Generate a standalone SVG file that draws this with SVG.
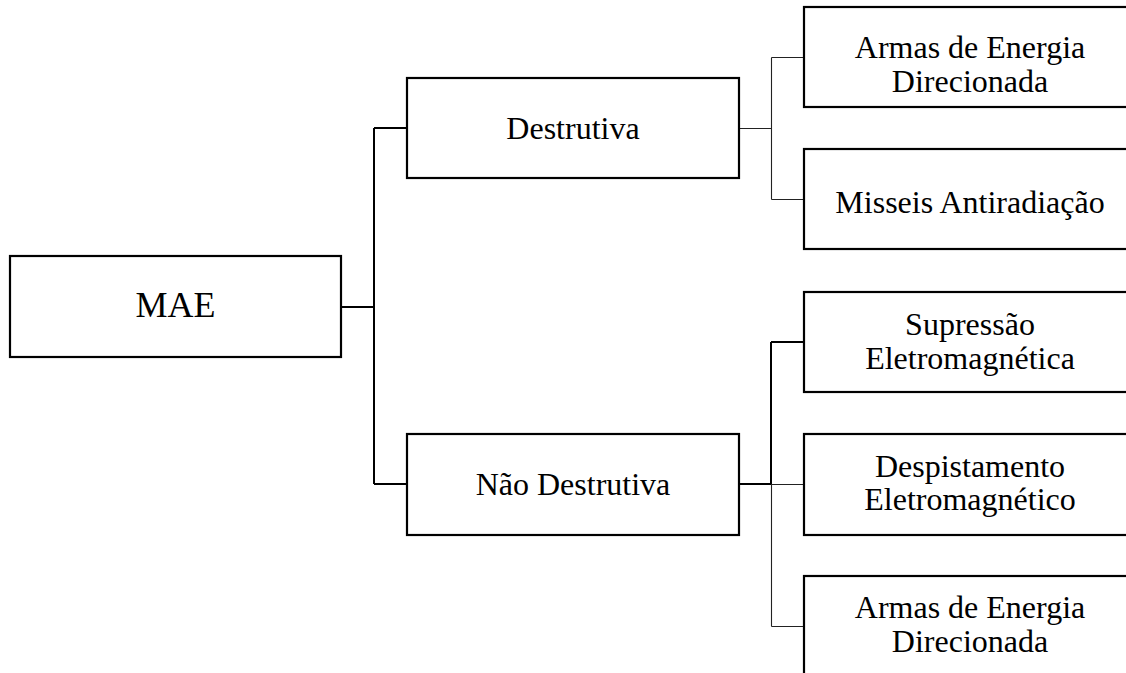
<svg xmlns="http://www.w3.org/2000/svg" width="1126" height="673" viewBox="0 0 1126 673">
  <style>
    .box { fill: #ffffff; stroke: #000000; stroke-width: 2.2; }
    .lbl { font-family: "Liberation Serif", "Times New Roman", serif; font-size: 32px; fill: #000000; text-anchor: middle; }
    .big { font-size: 36px; }
    .thick { fill: none; stroke: #000000; stroke-width: 2; }
    .thin { fill: none; stroke: #222222; stroke-width: 1.1; }
  </style>
  <rect width="1126" height="673" fill="#ffffff"/>

  <!-- connectors -->
  <g id="connectors">
    <path class="thick" d="M341 307 H374 M374 128 V484 M374 128 H407 M374 484 H407"/>
    <path class="thin" d="M739 128.5 H771.5 M771.5 57.5 V199.5 M771.5 57.5 H804 M771.5 199.5 H804"/>
    <path class="thick" d="M739 484 H771 M771 342 V484 M771 342 H804"/>
    <path class="thin" d="M771 484.5 H804 M771.5 484 V626.5 M771.5 626.5 H804"/>
  </g>

  <g id="mae">
    <rect class="box" x="10" y="256" width="331" height="101"/>
    <text class="lbl big" x="175.5" y="317">MAE</text>
  </g>

  <g id="destrutiva">
    <rect class="box" x="407" y="78" width="332" height="100"/>
    <text class="lbl" x="573" y="139">Destrutiva</text>
  </g>

  <g id="nao-destrutiva">
    <rect class="box" x="407" y="434" width="332" height="101"/>
    <text class="lbl" x="573" y="495">Não Destrutiva</text>
  </g>

  <g id="armas-energia-1">
    <rect class="box" x="804" y="7" width="332" height="100"/>
    <text class="lbl" x="970" y="58">Armas de Energia</text>
    <text class="lbl" x="970" y="92">Direcionada</text>
  </g>

  <g id="misseis">
    <rect class="box" x="804" y="149" width="332" height="100"/>
    <text class="lbl" x="970" y="213">Misseis Antiradiação</text>
  </g>

  <g id="supressao">
    <rect class="box" x="804" y="292" width="332" height="100"/>
    <text class="lbl" x="970" y="335">Supressão</text>
    <text class="lbl" x="970" y="369">Eletromagnética</text>
  </g>

  <g id="despistamento">
    <rect class="box" x="804" y="434" width="332" height="101"/>
    <text class="lbl" x="970" y="477">Despistamento</text>
    <text class="lbl" x="970" y="510">Eletromagnético</text>
  </g>

  <g id="armas-energia-2">
    <rect class="box" x="804" y="576" width="332" height="120"/>
    <text class="lbl" x="970" y="618">Armas de Energia</text>
    <text class="lbl" x="970" y="652">Direcionada</text>
  </g>
</svg>
